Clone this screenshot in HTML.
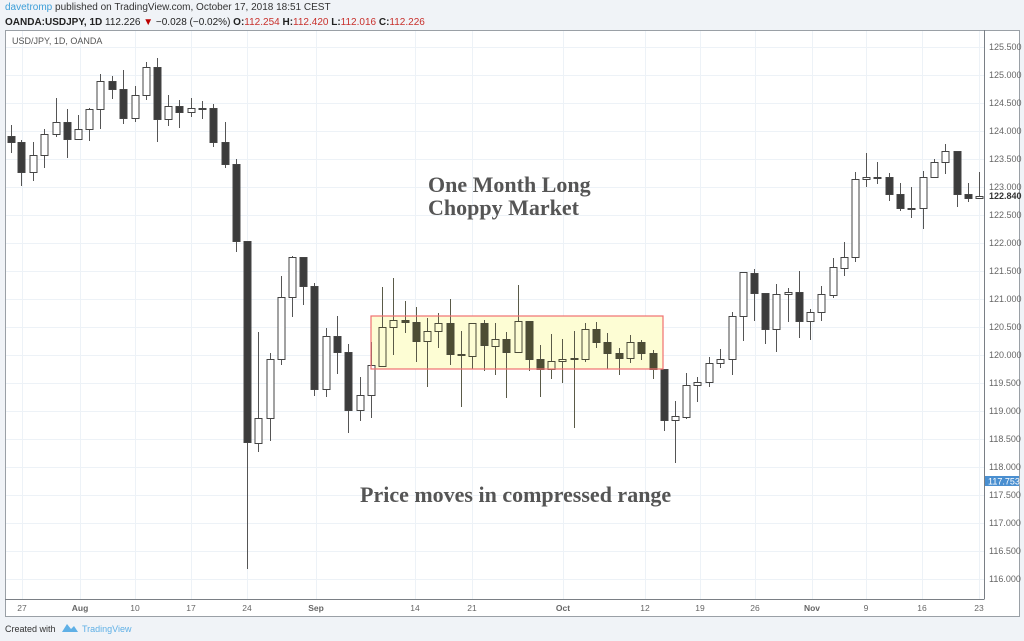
<!DOCTYPE html>
<html><head><meta charset="utf-8"><style>
body{margin:0;width:1024px;height:641px;background:#f0f3f7;font-family:"Liberation Sans",sans-serif;overflow:hidden;position:relative}
.h1{position:absolute;left:5px;top:2px;font-size:10px;color:#333}
.h2{position:absolute;left:5px;top:17px;font-size:10px;color:#222;font-weight:bold}
.r{color:#c8302c;font-weight:normal}
svg{position:absolute;left:0;top:0}
</style></head><body>
<div class="h1"><span style="color:#3d9fd8">davetromp</span> published on TradingView.com, October 17, 2018 18:51 CEST</div>
<div class="h2">OANDA:USDJPY, 1D <span style="font-weight:normal">112.226 <span style="color:#b00">▼</span> −0.028 (−0.02%)</span> O:<span class="r">112.254</span> H:<span class="r">112.420</span> L:<span class="r">112.016</span> C:<span class="r">112.226</span></div>
<svg width="1024" height="641" id="s" font-family="Liberation Sans, sans-serif">
<rect x="5.5" y="30.5" width="1014" height="586" fill="#fff" stroke="#9aa0a6"/>
<g id="grid" stroke="#edf2f7" stroke-width="1"></g>
<rect x="371" y="316" width="292" height="53" fill="#fdfdd4"/>
<g id="c"></g>
<rect x="371" y="316" width="292" height="53" fill="none" stroke="#f07070" stroke-width="1.2"/>
<line x1="984.5" y1="30" x2="984.5" y2="599" stroke="#7a7f85"/>
<line x1="5" y1="599.5" x2="984.5" y2="599.5" stroke="#7a7f85"/>
<text x="12" y="44" font-size="9" fill="#555">USD/JPY, 1D, OANDA</text>
<g font-family="Liberation Serif, serif" font-weight="bold" fill="#555" font-size="22">
<text x="428" y="192">One Month Long</text>
<text x="428" y="215">Choppy Market</text>
<text x="360" y="502">Price moves in compressed range</text>
</g>
<g font-size="9" fill="#666" id="pl">
<text x="989" y="50">125.500</text><text x="989" y="78">125.000</text><text x="989" y="106">124.500</text><text x="989" y="134">124.000</text><text x="989" y="162">123.500</text><text x="989" y="190">123.000</text><text x="989" y="246">122.000</text><text x="989" y="274">121.500</text><text x="989" y="302">121.000</text><text x="989" y="330">120.500</text><text x="989" y="358">120.000</text><text x="989" y="386">119.500</text><text x="989" y="414">119.000</text><text x="989" y="442">118.500</text><text x="989" y="470">118.000</text><text x="989" y="526">117.000</text><text x="989" y="554">116.500</text><text x="989" y="582">116.000</text><text x="989" y="498">117.500</text><text x="989" y="218">122.500</text>
</g>
<rect x="985" y="190" width="34" height="12" fill="#fff"/>
<text x="989" y="199" font-size="9" fill="#333" font-weight="bold">122.840</text>
<rect x="985" y="476" width="34" height="10" fill="#4a8fd0"/>
<text x="988" y="484.5" font-size="9" fill="#fff">117.753</text>
<g font-size="8.5" fill="#666" text-anchor="middle">
<text x="22" y="611">27</text><text x="80" y="611" font-weight="bold">Aug</text><text x="135" y="611">10</text><text x="191" y="611">17</text><text x="247" y="611">24</text><text x="316" y="611" font-weight="bold">Sep</text><text x="415" y="611">14</text><text x="472" y="611">21</text><text x="563" y="611" font-weight="bold">Oct</text><text x="645" y="611">12</text><text x="700" y="611">19</text><text x="755" y="611">26</text><text x="812" y="611" font-weight="bold">Nov</text><text x="866" y="611">9</text><text x="922" y="611">16</text><text x="979" y="611">23</text>
</g>
<text x="5" y="632" font-size="9" fill="#333">Created with</text>
<path d="M62 632 l5 -8 l4 5 l3 -3 l4 6 z" fill="#5fb0e6"/>
<text x="82" y="632" font-size="9" fill="#5fb0e6">TradingView</text>
</svg>
<script>
var d=[[11,125,153,136,142,1],[21,140,186,142,172,1],[33,142,181,155,172,0],[44,129,168,134,155,0],[56,98,137,122,134,0],[67,109,158,122,139,1],[78,115,139,129,139,0],[89,108,141,109,129,0],[100,74,129,81,109,0],[112,76,99,81,89,1],[123,70,124,89,118,1],[135,86,122,95,118,0],[146,62,100,67,95,0],[157,58,142,67,119,1],[168,95,126,106,119,0],[179,100,128,106,112,1],[191,98,117,108,112,0],[202,101,119,108,109,1],[213,104,147,108,142,1],[225,122,168,142,164,1],[236,159,252,164,241,1],[247,241,569,241,442,1],
[258,332,452,418,443,0],[270,353,441,359,418,0],[281,276,365,297,359,0],[292,256,317,257,297,0],[303,257,305,257,286,1],[314,283,396,286,389,1],[326,328,397,336,389,0],[337,316,374,336,352,1],[348,344,433,352,410,1],[360,377,421,395,410,0],[371,342,418,365,395,0],[382,287,366,327,366,0],[393,278,355,320,327,0],[405,301,333,320,322,1],[416,307,362,322,341,1],[427,318,387,331,341,0],[438,313,348,323,331,0],[450,299,365,323,354,1],[461,331,407,354,355,1],[472,323,369,323,356,0],[484,320,371,323,345,1],
[495,323,375,339,346,0],[506,332,398,339,352,1],[518,285,352,321,352,0],[529,321,371,321,359,1],[540,345,397,359,369,1],[551,334,379,361,369,0],[562,339,383,359,361,0],[574,331,428,358,359,1],[585,323,362,329,359,0],[596,322,348,329,342,1],[607,333,369,342,353,1],[619,348,375,353,358,1],[630,335,363,342,358,0],[641,340,360,342,353,1],[653,350,379,353,369,1],[664,369,431,369,420,1],[675,401,463,416,420,0],[686,373,419,385,417,0],[697,377,402,382,385,0],[709,357,387,363,382,0],[720,349,368,359,363,0],
[732,312,375,316,359,0],[743,272,341,272,316,0],[754,269,321,273,293,1],[765,293,344,293,329,1],[776,284,352,294,329,0],[788,288,322,292,294,0],[799,271,338,292,321,1],[810,309,340,312,321,0],[821,286,321,294,312,0],[833,258,298,267,295,0],[844,242,276,257,268,0],[855,172,262,179,257,0],[866,153,187,177,179,0],[877,162,184,177,178,1],[889,173,201,177,194,1],[900,183,211,194,208,1],[911,187,218,208,209,0],[923,171,229,177,208,0],[934,159,177,162,177,0],[945,144,174,151,162,0],[957,151,207,151,194,1],[968,183,202,194,198,1],[979,172,199,196,198,0]];
var c=document.getElementById('c'),g=document.getElementById('grid'),h='';
for(var y=47;y<599;y+=28)h+='<line x1="6" y1="'+(y+.5)+'" x2="984" y2="'+(y+.5)+'"/>';
[22,80,135,191,247,316,415,472,563,645,700,755,812,866,922,979].forEach(function(x){h+='<line x1="'+(x+.5)+'" y1="31" x2="'+(x+.5)+'" y2="599"/>';});
g.innerHTML=h;h='';
d.forEach(function(k){var x=k[0],inb=(x>=375&&x<=660);
var dk=inb?'#4d4d33':'#3c3c3c',lt=inb?'#fdfdd4':'#fff',st=inb?'#4a4a38':'#444';
h+='<line x1="'+(x+.5)+'" y1="'+k[1]+'" x2="'+(x+.5)+'" y2="'+k[2]+'" stroke="'+(inb?'#5a5a48':'#555')+'"/>';
var bh=Math.max(1,k[4]-k[3]);h+='<rect x="'+(x-3)+'" y="'+(k[3]+.5)+'" width="7" height="'+bh+'" fill="'+(k[5]?dk:lt)+'" stroke="'+st+'" stroke-width="1"/>';});
c.innerHTML=h;
</script>
</body></html>
